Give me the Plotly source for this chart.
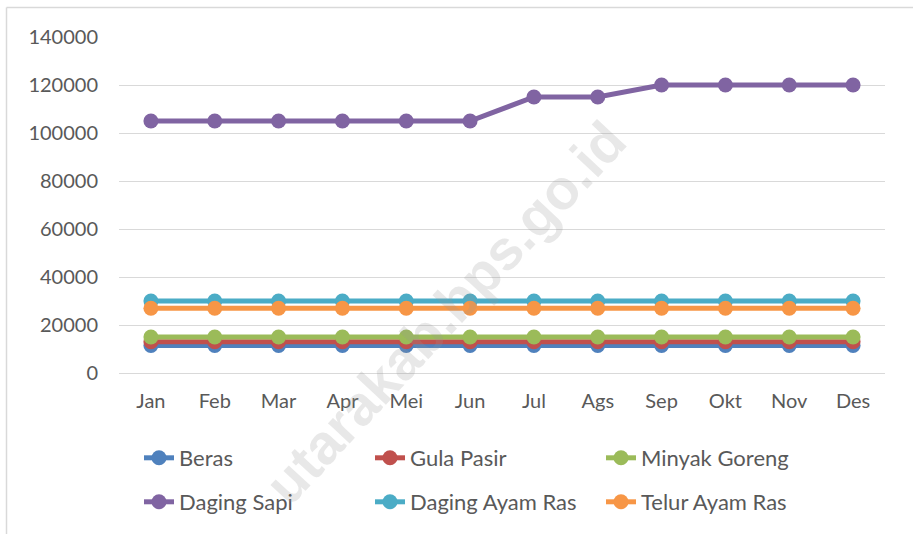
import plotly.graph_objects as go

months = ["Jan", "Feb", "Mar", "Apr", "Mei", "Jun", "Jul", "Ags", "Sep", "Okt", "Nov", "Des"]
beras = [11500] * 12
gula_pasir = [13000] * 12
minyak_goreng = [15000] * 12
daging_sapi = [105000, 105000, 105000, 105000, 105000, 105000, 115000, 115000, 120000, 120000, 120000, 120000]
daging_ayam_ras = [30000] * 12
telur_ayam_ras = [27000] * 12

series = [
    ("Beras", beras, "#4F81BD", "legend"),
    ("Gula Pasir", gula_pasir, "#C0504D", "legend"),
    ("Minyak Goreng", minyak_goreng, "#9BBB59", "legend"),
    ("Daging Sapi", daging_sapi, "#8064A2", "legend2"),
    ("Daging Ayam Ras", daging_ayam_ras, "#4BACC6", "legend2"),
    ("Telur Ayam Ras", telur_ayam_ras, "#F79646", "legend2"),
]

FONT = "Lato"
TXT = "#595959"

fig = go.Figure()
for name, vals, color, leg in series:
    fig.add_trace(go.Scatter(
        x=months, y=vals, name=name, mode="lines+markers",
        line=dict(color=color, width=5),
        marker=dict(color=color, size=15),
        legend=leg,
    ))

L, R, T, B = 119, 28, 37, 161
W, H = 913, 534
pw, ph = W - L - R, H - T - B

def px_x(x):
    return (x - L) / pw

def px_y(y):
    return (H - B - y) / ph

legend_common = dict(
    orientation="h", xanchor="left", yanchor="middle",
    font=dict(family=FONT, size=22, color=TXT),
    entrywidth=186, entrywidthmode="pixels",
    bgcolor="rgba(0,0,0,0)", itemwidth=30, tracegroupgap=0,
)

fig.update_layout(
    width=W, height=H,
    margin=dict(l=L, r=R, t=T, b=B, autoexpand=False),
    paper_bgcolor="white", plot_bgcolor="white",
    font=dict(family=FONT, size=20, color=TXT),
    showlegend=True,
    legend=dict(x=px_x(139), y=px_y(458), **legend_common),
    legend2=dict(x=px_x(139), y=px_y(502), **legend_common),
    xaxis=dict(
        range=[-0.5, 11.5],
        showgrid=False, showline=False, zeroline=False, ticks="",
        tickfont=dict(family=FONT, size=20, color=TXT),
        ticklabelstandoff=14,
    ),
    yaxis=dict(
        range=[0, 140000], dtick=20000, showgrid=True,
        gridcolor="#D9D9D9", gridwidth=1.3,
        zeroline=True, zerolinecolor="#D9D9D9", zerolinewidth=1.3,
        showline=False, ticks="",
        tickfont=dict(family=FONT, size=20, color=TXT),
        ticklabelstandoff=20, tickformat="d",
    ),
    shapes=[
        dict(type="line", xref="paper", yref="paper",
             x0=px_x(6.5), x1=px_x(913), y0=px_y(7.5), y1=px_y(7.5),
             line=dict(color="#D9D9D9", width=1.5)),
        dict(type="line", xref="paper", yref="paper",
             x0=px_x(6.5), x1=px_x(6.5), y0=px_y(7.5), y1=px_y(534),
             line=dict(color="#D9D9D9", width=1.5)),
    ],
    annotations=[
        dict(text="<b>utarakab.bps.go.id</b>", xref="paper", yref="paper",
             x=px_x(445), y=px_y(312), showarrow=False, textangle=-47,
             font=dict(family="Liberation Sans", size=56, color="rgba(150,150,150,0.22)"),
             xanchor="center", yanchor="middle"),
    ],
)

fig.write_html(
    "out.html",
    config={"displayModeBar": False},
    post_script="document.body.style.margin='0';document.body.style.overflow='hidden';",
)
